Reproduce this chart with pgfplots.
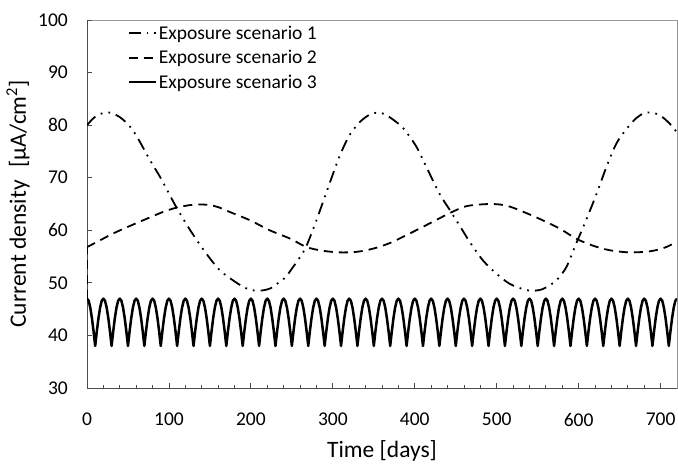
\documentclass[border=0pt]{standalone}
\usepackage{fontspec}
\setmainfont{Carlito}
\usepackage{pgfplots}
\pgfplotsset{compat=1.18}

\begin{document}
\begin{tikzpicture}
\begin{axis}[
  scale only axis,
  width=590bp, height=368bp,
  xmin=0, xmax=720, ymin=30, ymax=100,
  xtick={0,100,...,700},
  ytick={30,40,...,100},
  minor x tick num=4,
  tick align=inside,
  major tick length=5bp,
  minor tick length=3bp,
  axis x line*=bottom,
  axis y line*=left,
  axis line style={draw=black!70, line width=0.9bp},
  tick style={draw=black!70, line width=0.8bp},
  axis background/.style={draw=black!40, line width=0.9bp},
  /pgf/number format/assume math mode=true,
  ticklabel style={font=\fontsize{19.5bp}{23bp}\selectfont},
  yticklabel style={anchor=east, inner sep=0pt, xshift=-19bp},
  xticklabel style={anchor=north, inner sep=0pt, yshift=-25bp},
  every axis x label/.style={at={(axis description cs:0.5,-0.1875)}, anchor=base,
    font=\fontsize{23.5bp}{27bp}\selectfont},
  every axis y label/.style={at={(axis description cs:-0.1034,0.5)}, rotate=90, anchor=base,
    font=\fontsize{23.5bp}{27bp}\selectfont},
  xlabel={Time [days]},
  ylabel={Current density\hspace{0.55em}[µA/cm\textsuperscript{2}]},
  legend style={at={(axis description cs:0.068,0.99)}, anchor=north west,
    draw=none, fill=none, inner sep=0pt, row sep=5.5bp,
    nodes={inner sep=2bp}, font=\fontsize{19.5bp}{23bp}\selectfont},
  legend cell align=left,
  legend image code/.code={\draw[#1] (0bp,0bp) -- (27bp,0bp);},
]
\coordinate (bl) at (rel axis cs:0,0);
\coordinate (tr) at (rel axis cs:1,1);

% scenario 1
\addplot[black, line width=1.8bp, smooth,
  dash pattern=on 12bp off 6bp on 1.8bp off 6bp on 1.8bp off 6bp]
  coordinates {(0,80.0)(10,81.6)(22,82.4)(32,82.2)(42,81.3)(52,79.8)(61,77.8)
  (77,73.3)(89,70.2)(100,67.0)(109,64.4)(126,60.0)(144,55.9)(162,52.4)(178,50.5)
  (190,49.3)(199,48.7)(209,48.5)(219,48.7)(227,49.2)(235,50.2)(242,51.0)(250,52.7)
  (260,54.9)(268,57.1)(280,61.9)(296,68.9)(308,74.0)(320,78.0)(333,80.6)(345,82.0)
  (355,82.4)(363,82.1)(374,81.0)(386,79.4)(402,75.9)(414,72.1)(430,67.0)(443,63.8)
  (459,59.8)(467,57.8)(483,54.3)(500,51.7)(516,49.8)(534,48.7)(545,48.5)(556,48.8)
  (565,49.6)(573,50.5)(585,53.0)(597,57.5)(609,61.9)(622,67.0)(634,72.1)(646,76.5)
  (658,79.2)(670,81.3)(680,82.3)(688,82.4)(699,81.9)(711,80.3)(720,78.6)};
\addlegendentry{Exposure scenario 1}

% scenario 2
\addplot[black, line width=1.8bp, smooth, dash pattern=on 9bp off 6bp]
  coordinates {(0,56.8)(16,58.1)(32,59.4)(52,60.8)(73,62.2)(93,63.5)(109,64.3)
  (126,64.8)(138,64.9)(150,64.8)(162,64.3)(174,63.5)(199,61.9)(223,60.0)(248,58.4)
  (268,56.8)(288,56.1)(308,55.8)(329,55.9)(349,56.5)(370,57.6)(394,59.4)(418,61.3)
  (443,63.3)(459,64.4)(467,64.7)(479,64.9)(492,65.0)(504,64.9)(516,64.5)(528,63.8)
  (552,62.2)(577,60.3)(597,58.4)(617,57.1)(638,56.2)(662,55.8)(687,56.0)(705,56.7)
  (720,57.8)};
\addlegendentry{Exposure scenario 2}
\addplot[black, line width=1.8bp, dash pattern=on 9bp off 6bp, forget plot]
  coordinates {(0,47)(0,56.8)};

% scenario 3
\addplot[black, line width=2.5bp, line join=round]
  coordinates {
  (0,47)(2,46.6)(4,45.3)(6,43.3)(8,40.8)(10,38)(12,40.8)(14,43.3)(16,45.3)(18,46.6)
  (20,47)(22,46.6)(24,45.3)(26,43.3)(28,40.8)(30,38)(32,40.8)(34,43.3)(36,45.3)(38,46.6)
  (40,47)(42,46.6)(44,45.3)(46,43.3)(48,40.8)(50,38)(52,40.8)(54,43.3)(56,45.3)(58,46.6)
  (60,47)(62,46.6)(64,45.3)(66,43.3)(68,40.8)(70,38)(72,40.8)(74,43.3)(76,45.3)(78,46.6)
  (80,47)(82,46.6)(84,45.3)(86,43.3)(88,40.8)(90,38)(92,40.8)(94,43.3)(96,45.3)(98,46.6)
  (100,47)(102,46.6)(104,45.3)(106,43.3)(108,40.8)(110,38)(112,40.8)(114,43.3)(116,45.3)(118,46.6)
  (120,47)(122,46.6)(124,45.3)(126,43.3)(128,40.8)(130,38)(132,40.8)(134,43.3)(136,45.3)(138,46.6)
  (140,47)(142,46.6)(144,45.3)(146,43.3)(148,40.8)(150,38)(152,40.8)(154,43.3)(156,45.3)(158,46.6)
  (160,47)(162,46.6)(164,45.3)(166,43.3)(168,40.8)(170,38)(172,40.8)(174,43.3)(176,45.3)(178,46.6)
  (180,47)(182,46.6)(184,45.3)(186,43.3)(188,40.8)(190,38)(192,40.8)(194,43.3)(196,45.3)(198,46.6)
  (200,47)(202,46.6)(204,45.3)(206,43.3)(208,40.8)(210,38)(212,40.8)(214,43.3)(216,45.3)(218,46.6)
  (220,47)(222,46.6)(224,45.3)(226,43.3)(228,40.8)(230,38)(232,40.8)(234,43.3)(236,45.3)(238,46.6)
  (240,47)(242,46.6)(244,45.3)(246,43.3)(248,40.8)(250,38)(252,40.8)(254,43.3)(256,45.3)(258,46.6)
  (260,47)(262,46.6)(264,45.3)(266,43.3)(268,40.8)(270,38)(272,40.8)(274,43.3)(276,45.3)(278,46.6)
  (280,47)(282,46.6)(284,45.3)(286,43.3)(288,40.8)(290,38)(292,40.8)(294,43.3)(296,45.3)(298,46.6)
  (300,47)(302,46.6)(304,45.3)(306,43.3)(308,40.8)(310,38)(312,40.8)(314,43.3)(316,45.3)(318,46.6)
  (320,47)(322,46.6)(324,45.3)(326,43.3)(328,40.8)(330,38)(332,40.8)(334,43.3)(336,45.3)(338,46.6)
  (340,47)(342,46.6)(344,45.3)(346,43.3)(348,40.8)(350,38)(352,40.8)(354,43.3)(356,45.3)(358,46.6)
  (360,47)(362,46.6)(364,45.3)(366,43.3)(368,40.8)(370,38)(372,40.8)(374,43.3)(376,45.3)(378,46.6)
  (380,47)(382,46.6)(384,45.3)(386,43.3)(388,40.8)(390,38)(392,40.8)(394,43.3)(396,45.3)(398,46.6)
  (400,47)(402,46.6)(404,45.3)(406,43.3)(408,40.8)(410,38)(412,40.8)(414,43.3)(416,45.3)(418,46.6)
  (420,47)(422,46.6)(424,45.3)(426,43.3)(428,40.8)(430,38)(432,40.8)(434,43.3)(436,45.3)(438,46.6)
  (440,47)(442,46.6)(444,45.3)(446,43.3)(448,40.8)(450,38)(452,40.8)(454,43.3)(456,45.3)(458,46.6)
  (460,47)(462,46.6)(464,45.3)(466,43.3)(468,40.8)(470,38)(472,40.8)(474,43.3)(476,45.3)(478,46.6)
  (480,47)(482,46.6)(484,45.3)(486,43.3)(488,40.8)(490,38)(492,40.8)(494,43.3)(496,45.3)(498,46.6)
  (500,47)(502,46.6)(504,45.3)(506,43.3)(508,40.8)(510,38)(512,40.8)(514,43.3)(516,45.3)(518,46.6)
  (520,47)(522,46.6)(524,45.3)(526,43.3)(528,40.8)(530,38)(532,40.8)(534,43.3)(536,45.3)(538,46.6)
  (540,47)(542,46.6)(544,45.3)(546,43.3)(548,40.8)(550,38)(552,40.8)(554,43.3)(556,45.3)(558,46.6)
  (560,47)(562,46.6)(564,45.3)(566,43.3)(568,40.8)(570,38)(572,40.8)(574,43.3)(576,45.3)(578,46.6)
  (580,47)(582,46.6)(584,45.3)(586,43.3)(588,40.8)(590,38)(592,40.8)(594,43.3)(596,45.3)(598,46.6)
  (600,47)(602,46.6)(604,45.3)(606,43.3)(608,40.8)(610,38)(612,40.8)(614,43.3)(616,45.3)(618,46.6)
  (620,47)(622,46.6)(624,45.3)(626,43.3)(628,40.8)(630,38)(632,40.8)(634,43.3)(636,45.3)(638,46.6)
  (640,47)(642,46.6)(644,45.3)(646,43.3)(648,40.8)(650,38)(652,40.8)(654,43.3)(656,45.3)(658,46.6)
  (660,47)(662,46.6)(664,45.3)(666,43.3)(668,40.8)(670,38)(672,40.8)(674,43.3)(676,45.3)(678,46.6)
  (680,47)(682,46.6)(684,45.3)(686,43.3)(688,40.8)(690,38)(692,40.8)(694,43.3)(696,45.3)(698,46.6)
  (700,47)(702,46.6)(704,45.3)(706,43.3)(708,40.8)(710,38)(712,40.8)(714,43.3)(716,45.3)(718,46.6)
  (720,47)};
\addlegendentry{Exposure scenario 3}
\end{axis}
\pgfresetboundingbox
\path ([shift={(-87bp,-76bp)}]bl) rectangle ([shift={(1bp,20bp)}]tr);
\end{tikzpicture}
\end{document}
